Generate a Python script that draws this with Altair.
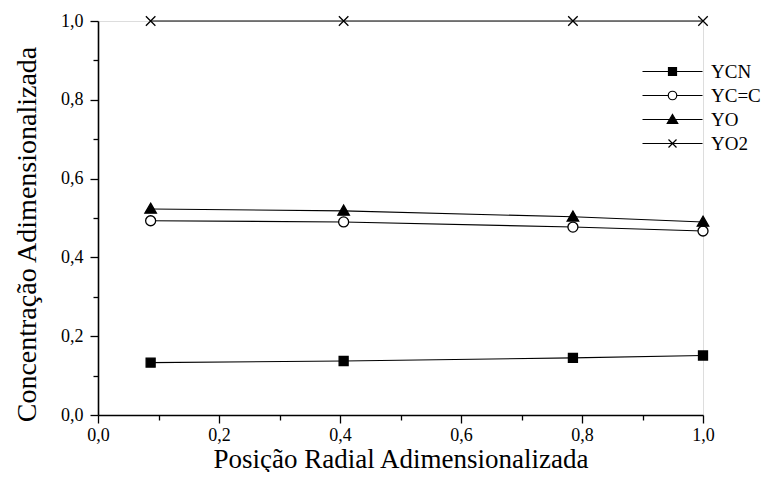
import altair as alt
import pandas as pd

# ---- data ----
x_pos = [0.087, 0.406, 0.785, 1.0]
ycn = [0.133, 0.137, 0.145, 0.151]
ycc = [0.493, 0.490, 0.477, 0.467]
yo = [0.523, 0.518, 0.503, 0.490]
yo2 = [1.0, 1.0, 1.0, 1.0]
series_names = ["YCN", "YC=C", "YO", "YO2"]
axis_ticks = [0.0, 0.1, 0.2, 0.3, 0.4, 0.5, 0.6, 0.7, 0.8, 0.9, 1.0]

values = {"YCN": ycn, "YC=C": ycc, "YO": yo, "YO2": yo2}

# ---- styles ----
marker_paths = {
    "YCN": "M-0.9,-0.9H0.9V0.9H-0.9Z",
    "YC=C": "circle",
    "YO": "M0,-1.15L1.15,0.85L-1.15,0.85Z",
    "YO2": "M-0.95,-0.95L0.95,0.95M-0.95,0.95L0.95,-0.95",
}
fill_map = {"YCN": "black", "YC=C": "white", "YO": "black", "YO2": "black"}
legend_paths = [
    "M-6,0H-0.8M0.8,0H6M-0.8,-0.8H0.8V0.8H-0.8Z",
    "M-6,0H-0.85M0.85,0H6M0.85,0A0.85,0.85 0 1,1 -0.85,0A0.85,0.85 0 1,1 0.85,0Z",
    "M-6,0H-0.7M0.7,0H6M0,-1L1.05,0.8L-1.05,0.8Z",
    "M-6,0H6M-0.8,-0.8L0.8,0.8M-0.8,0.8L0.8,-0.8",
]

rows = []
for s in series_names:
    for xv, yv in zip(x_pos, values[s]):
        rows.append({"x": xv, "y": yv, "series": s,
                     "marker": marker_paths[s], "fillc": fill_map[s]})
df = pd.DataFrame(rows)

FONT = "Liberation Serif"
even = "round(datum.value*10) % 2 == 0"
label_expr = f"{even} ? replace(format(datum.value, '.1f'), '.', ',') : ''"

def make_axis(title, orient):
    extra = ({"titleY": 31, "labelPadding": 3, "titleFontSize": 27}
             if orient == "x"
             else {"titleX": -57, "titleY": 213, "labelPadding": 7,
                   "titleFontSize": 28})
    return alt.Axis(
        title=title,
        values=axis_ticks,
        labelExpr=label_expr,
        tickSize={"condition": {"test": even, "value": 8}, "value": 5},
        tickColor="black",
        tickWidth=1.3,
        domainColor="black",
        domainWidth=1.6,
        grid=False,
        labelFont=FONT,
        labelFontSize=18,
        labelColor="black",
        labelFlush=False,
        labelOverlap=False,
        titleFont=FONT,
        titleFontWeight="normal",
        titleColor="black",
        **extra,
    )

xenc = alt.X("x:Q", scale=alt.Scale(domain=[0, 1.0], nice=False),
             axis=make_axis("Posição Radial Adimensionalizada", "x"))
yenc = alt.Y("y:Q", scale=alt.Scale(domain=[0, 1.0], nice=False),
             axis=make_axis("Concentração Adimensionalizada", "y"))

base = alt.Chart(df)

lines = base.mark_line(color="black", strokeWidth=1.1).encode(
    x=xenc, y=yenc, detail="series:N"
)

markers = base.mark_point(filled=True, size=100, stroke="black",
                          strokeWidth=1.3, opacity=1).encode(
    x=xenc, y=yenc,
    shape=alt.Shape("marker:N", scale=None),
    fill=alt.Fill("fillc:N", scale=None),
)

leg = alt.Legend(
    title=None, orient="none", legendX=565, legendY=41,
    symbolSize=100, symbolOpacity=1, symbolStrokeColor="black",
    symbolStrokeWidth=1.2, labelOffset=29, labelFont=FONT,
    labelFontSize=19, labelColor="black", rowPadding=4, padding=0,
)

legend_layer = base.mark_point(filled=False, size=100, opacity=0,
                               color="black").encode(
    x=xenc, y=yenc,
    shape=alt.Shape("series:N",
                    scale=alt.Scale(domain=series_names, range=legend_paths),
                    sort=series_names, legend=leg),
    fill=alt.Fill("series:N",
                  scale=alt.Scale(domain=series_names,
                                  range=[fill_map[s] for s in series_names]),
                  sort=series_names, legend=leg),
)

chart = alt.layer(lines, markers, legend_layer).properties(
    width=605, height=394,
    autosize=alt.AutoSizeParams(type="none"),
    padding={"left": 90, "top": 13, "right": 62, "bottom": 57},
).configure_view(stroke=None).configure(background="white")

chart.save("out.html", embed_options={"renderer": "svg", "actions": False})
